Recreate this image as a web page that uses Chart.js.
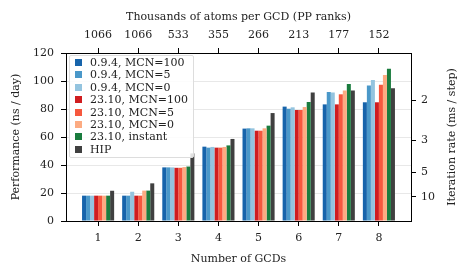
<!DOCTYPE html>
<html>
<head>
<meta charset="utf-8">
<script src="https://cdn.jsdelivr.net/npm/chart.js@4.4.1/dist/chart.umd.min.js"></script>
<style>
  body { margin: 0; background: #fff; }
  #wrap { position: relative; width: 470px; height: 277px; }
  #legend {
    position: absolute; left: 69px; top: 55px;
    background: rgba(255,255,255,0.85);
    border: 1px solid #ddd; border-radius: 2px;
    padding: 1px 5px 1px 3px;
    font: 11px "DejaVu Serif", serif; color: #222;
  }
  #legend div { height: 12.4px; line-height: 12.4px; white-space: nowrap; }
  #legend span { display: inline-block; width: 7px; height: 7px; margin: 0 8px 0 2px; vertical-align: 0px; }
</style>
</head>
<body>
<div id="wrap">
  <canvas id="myChart" width="470" height="277"></canvas>
  <div id="legend"></div>
</div>
<script>
// number of GCDs
const gcds = [1, 2, 3, 4, 5, 6, 7, 8];
// top axis: thousands of atoms per GCD
const atoms = ['1066', '1066', '533', '355', '266', '213', '177', '152'];
// right axis ticks (ms / step)
const msTicks = [2, 3, 5, 10];
const nsPerDayAt1ms = 172.8;

const nombres = ['0.9.4, MCN=100', '0.9.4, MCN=5', '0.9.4, MCN=0', '23.10, MCN=100',
                 '23.10, MCN=5', '23.10, MCN=0', '23.10, instant', 'HIP'];
const colores = ['#1764ab', '#4a98c9', '#94c4df', '#d01d1f', '#f6583e', '#fcab82', '#1a7c3e', '#404040'];

const v094_mcn100 = [18.1, 18.1, 38.3, 53.1, 66.0, 81.7, 83.3, 84.8];
const v094_mcn5   = [18.1, 18.1, 38.3, 52.4, 66.2, 80.2, 92.1, 96.7];
const v094_mcn0   = [18.1, 20.9, 38.3, 52.9, 66.2, 81.2, 91.7, 100.7];
const v2310_mcn100 = [18.1, 18.1, 38.0, 52.4, 64.5, 79.3, 83.3, 84.8];
const v2310_mcn5  = [18.1, 18.1, 38.0, 52.4, 64.5, 79.3, 90.5, 97.4];
const v2310_mcn0  = [18.1, 21.7, 38.5, 52.9, 66.2, 81.4, 93.3, 104.3];
const v2310_inst  = [18.1, 21.7, 38.9, 54.0, 68.1, 85.0, 97.9, 108.8];
const hip         = [21.6, 26.9, 48.3, 58.6, 77.1, 91.7, 93.3, 94.8];

const series = [v094_mcn100, v094_mcn5, v094_mcn0, v2310_mcn100, v2310_mcn5, v2310_mcn0, v2310_inst, hip];

const fuente = { family: 'DejaVu Serif', size: 11 };
Chart.defaults.font = fuente;
Chart.defaults.color = '#222';

function fijarTicks(axis) {
    axis.ticks = gcds.map(v => ({ value: v }));
}

// right-hand title, drawn bottom-to-top like the original
const tituloDerecho = {
    id: 'tituloDerecho',
    afterDraw(chart) {
        const ctx = chart.ctx;
        const area = chart.chartArea;
        ctx.save();
        ctx.translate(452, (area.top + area.bottom) / 2);
        ctx.rotate(-Math.PI / 2);
        ctx.font = '11px "DejaVu Serif"';
        ctx.fillStyle = '#222';
        ctx.textAlign = 'center';
        ctx.textBaseline = 'middle';
        ctx.fillText('Iteration rate (ms / step)', 0, 0);
        ctx.restore();
    }
};

const ctx = document.getElementById('myChart');
const myChart = new Chart(ctx, {
    type: 'bar',
    data: {
        datasets: series.map((s, i) => ({
            label: nombres[i],
            data: gcds.map((g, j) => ({ x: g, y: s[j] })),
            backgroundColor: colores[i],
            borderWidth: 0,
            categoryPercentage: 0.8,
            barPercentage: 1.0,
            xAxisID: 'x',
            yAxisID: 'y'
        }))
    },
    options: {
        responsive: false,
        animation: false,
        devicePixelRatio: 1,
        layout: { padding: 0 },
        plugins: { legend: { display: false }, tooltip: { enabled: false } },
        scales: {
            x: {
                type: 'linear', position: 'bottom', min: 0.2, max: 8.8, offset: false,
                afterBuildTicks: fijarTicks,
                afterFit: s => { s.height = 56; },
                ticks: { padding: 6, maxRotation: 0, callback: v => String(v) },
                grid: { offset: false, drawOnChartArea: false, tickLength: 5, tickColor: '#000' },
                border: { color: '#000', width: 1 },
                title: { display: true, text: 'Number of GCDs', padding: { top: 2, bottom: 11 } }
            },
            xt: {
                type: 'linear', position: 'top', min: 0.2, max: 8.8, offset: false,
                afterBuildTicks: fijarTicks,
                afterFit: s => { s.height = 53; },
                ticks: { padding: 6, maxRotation: 0, callback: (v, i) => atoms[i] },
                grid: { offset: false, drawOnChartArea: false, tickLength: 5, tickColor: '#000' },
                border: { color: '#000', width: 1 },
                title: { display: true, text: 'Thousands of atoms per GCD (PP ranks)', padding: { top: 11, bottom: 0 } }
            },
            y: {
                type: 'linear', position: 'left', min: 0, max: 120,
                afterFit: s => { s.width = 66; },
                ticks: { stepSize: 20, padding: 7 },
                grid: { color: '#e8e8e8', tickColor: '#000', tickLength: 5 },
                border: { color: '#000', width: 1 },
                title: { display: true, text: 'Performance (ns / day)', padding: { top: 10, bottom: 0 } }
            },
            yr: {
                type: 'linear', position: 'right', min: 0, max: 120,
                afterBuildTicks: axis => { axis.ticks = msTicks.map(m => ({ value: nsPerDayAt1ms / m })); },
                afterFit: s => { s.width = 59; },
                ticks: { padding: 5, callback: (v, i) => String(msTicks[i]) },
                grid: { drawOnChartArea: false, tickColor: '#000', tickLength: 5 },
                border: { color: '#000', width: 1 }
            }
        }
    },
    plugins: [tituloDerecho]
});

// legend inside the plot
const leyenda = document.getElementById('legend');
nombres.forEach((n, i) => {
    leyenda.innerHTML += `<div><span style="background:${colores[i]}"></span>${n}</div>`;
});
</script>
</body>
</html>
